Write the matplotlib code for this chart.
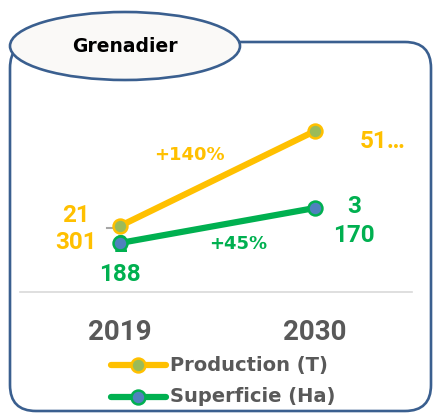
import matplotlib
matplotlib.use("Agg")
import matplotlib.pyplot as plt
from matplotlib.patches import FancyBboxPatch, Ellipse
from matplotlib.lines import Line2D

# ---- data ----
title = "Grenadier"
years = ["2019", "2030"]
production = [21301, 51122]
superficie = [2188, 3170]
prod_labels = ["21\n301", "51…"]
sup_labels = ["2\n188", "3\n170"]
prod_growth = "+140%"
sup_growth = "+45%"
series_names = ["Production (T)", "Superficie (Ha)"]

W, H = 433, 413
fig = plt.figure(figsize=(W / 100, H / 100), dpi=100)
fig.patch.set_facecolor("white")

FONT = "Roboto"
WIDE = "DejaVu Sans"
ORANGE = "#FFC000"
GREEN = "#00B050"
GRAY = "#595959"
FRAME = "#3A5F8F"

# decoration axes in pixel coordinates (y downward)
deco = fig.add_axes([0, 0, 1, 1])
deco.set_xlim(0, W)
deco.set_ylim(H, 0)
deco.axis("off")

frame = FancyBboxPatch((10, 42), 421, 369, boxstyle="round,pad=0,rounding_size=26",
                       fill=False, edgecolor=FRAME, linewidth=1.9, zorder=1)
deco.add_patch(frame)
ell = Ellipse((125, 46), 230, 68, facecolor="#FAF9F7", edgecolor=FRAME, linewidth=1.9, zorder=2)
deco.add_patch(ell)
deco.text(125, 47, title, fontsize=13.5, fontweight="bold", family=WIDE,
          ha="center", va="center", color="black", zorder=3)

# baseline
deco.plot([20, 412], [292, 292], color="#D9D9D9", lw=1.2, zorder=1)

# data axes: pixel box x 20..412, y 100..292
x0, x1, ytop, ybot = 20, 412, 100, 292
ax = fig.add_axes([x0 / W, 1 - ybot / H, (x1 - x0) / W, (ybot - ytop) / H])
ax.patch.set_alpha(0)
px_per_unit = 195.0
ax.set_xlim(-(120 - x0) / px_per_unit, 1 + (x1 - 315) / px_per_unit)
ax.set_ylim(584, 60853)
ax.axis("off")
ax2 = ax.twinx()
ax2.set_ylim(813, 6200)
ax2.axis("off")

xs = [0, 1]
ax.plot(xs, production, color=ORANGE, lw=4.5, marker="o", ms=10,
        mfc="#9BBB59", mec=ORANGE, mew=1.8, zorder=3)
ax2.plot(xs, superficie, color=GREEN, lw=4.5, marker="o", ms=10,
         mfc="#4F81BD", mec=GREEN, mew=1.8, zorder=3)

# small gray leader
deco.plot([107, 117], [228, 228], color="#A6A6A6", lw=1.5, zorder=1)

lab_fs = 17.5
# production labels
deco.text(76, 229, prod_labels[0], fontsize=lab_fs, fontweight="bold", family=FONT,
          color=ORANGE, ha="center", va="center", linespacing=1.25)
deco.text(383, 141, prod_labels[1], fontsize=lab_fs, fontweight="bold", family=FONT,
          color=ORANGE, ha="center", va="center")
# superficie labels
deco.text(120, 260, sup_labels[0], fontsize=lab_fs, fontweight="bold", family=FONT,
          color=GREEN, ha="center", va="center", linespacing=1.35, zorder=5)
deco.text(354, 221, sup_labels[1], fontsize=lab_fs, fontweight="bold", family=FONT,
          color=GREEN, ha="center", va="center", linespacing=1.35)
# growth
deco.text(189, 155, prod_growth, fontsize=13, fontweight="bold", family=WIDE,
          color=ORANGE, ha="center", va="center")
deco.text(238, 244, sup_growth, fontsize=13, fontweight="bold", family=WIDE,
          color=GREEN, ha="center", va="center")

# x labels
for xp, yr in zip([120, 315], years):
    deco.text(xp, 333, yr, fontsize=20, fontweight="bold", family=FONT,
              color=GRAY, ha="center", va="center")

# legend
for yy, name, lc, fc in [(365, series_names[0], ORANGE, "#9BBB59"),
                         (397, series_names[1], GREEN, "#4F81BD")]:
    deco.add_line(Line2D([111, 166], [yy, yy], color=lc, lw=4.5, solid_capstyle="round"))
    deco.plot([138], [yy], marker="o", ms=10, mfc=fc, mec=lc, mew=1.8)
    deco.text(170, yy, name, fontsize=14, fontweight="bold", family=WIDE,
              color=GRAY, ha="left", va="center")

fig.savefig("out.png", dpi=100, facecolor="white")
